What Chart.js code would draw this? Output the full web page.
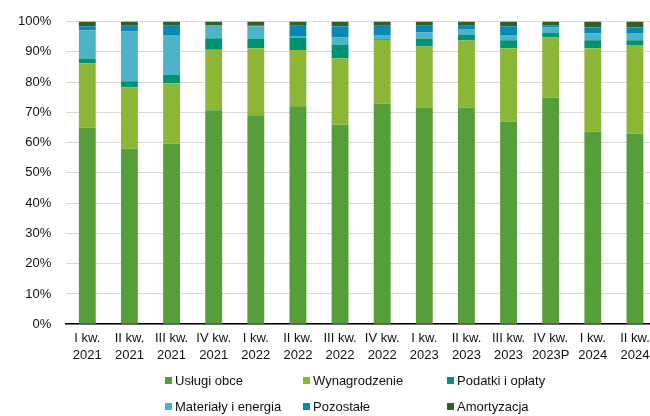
<!DOCTYPE html>
<html>
<head>
<meta charset="utf-8">
<script src="https://cdn.jsdelivr.net/npm/chart.js@4"></script>
<style>
  html, body { margin: 0; padding: 0; background: #fff; overflow: hidden; }
  #wrap { position: relative; width: 660px; height: 416px; }
  #legend { position: absolute; left: 0; top: 0; width: 650px; height: 416px; pointer-events: none;
            font-family: "Liberation Sans", Arial, sans-serif; font-size: 13px; color: #111; }
  .item { position: absolute; display: flex; align-items: center; white-space: nowrap; line-height: 16px; }
  .box { width: 7px; height: 7px; margin-right: 3px; }
</style>
</head>
<body>
<div id="wrap">
  <canvas id="cost-chart" width="660" height="416"></canvas>
  <div id="legend"></div>
</div>
<script>
const categories = [
    ["I kw.", "2021"], ["II kw.", "2021"], ["III kw.", "2021"], ["IV kw.", "2021"],
    ["I kw.", "2022"], ["II kw.", "2022"], ["III kw.", "2022"], ["IV kw.", "2022"],
    ["I kw.", "2023"], ["II kw.", "2023"], ["III kw.", "2023"], ["IV kw.", "2023P"],
    ["I kw.", "2024"], ["II kw.", "2024"]
];
const uslugiObce    = [64.9, 58.0, 59.6, 70.7, 69.0, 72.0, 65.9, 72.8, 71.6, 71.5, 66.9, 74.8, 63.6, 62.9];
const wynagrodzenie = [21.3, 20.3, 20.0, 20.0, 22.2, 18.6, 21.9, 21.1, 20.1, 22.2, 24.3, 19.9, 27.6, 29.3];
const podatki       = [1.6, 2.0, 2.7, 3.8, 3.0, 4.1, 4.6, 0.2, 2.7, 1.8, 2.6, 1.5, 2.6, 1.6];
const materialy     = [9.2, 16.4, 13.2, 4.1, 4.2, 0.3, 2.3, 1.4, 2.0, 2.0, 1.7, 1.8, 2.3, 2.4];
const pozostale     = [1.4, 1.9, 3.1, 0.2, 0.2, 3.6, 3.7, 3.1, 2.2, 1.1, 2.9, 0.8, 1.9, 1.8];
const amortyzacja   = [1.6, 1.4, 1.4, 1.2, 1.4, 1.4, 1.6, 1.4, 1.4, 1.4, 1.6, 1.2, 2.0, 2.0];
const yTicks = [0, 10, 20, 30, 40, 50, 60, 70, 80, 90, 100];

const seriesNames = ["Usługi obce", "Wynagrodzenie", "Podatki i opłaty", "Materiały i energia", "Pozostałe", "Amortyzacja"];
const seriesData = [uslugiObce, wynagrodzenie, podatki, materialy, pozostale, amortyzacja];
const seriesColors = ["#559E3A", "#8CB635", "#009373", "#4CB4C6", "#0A88B4", "#345F25"];

function buildChart() {
    const ctx = document.getElementById("cost-chart").getContext('2d');
    const family = '"Liberation Sans", Arial, sans-serif';
    return new Chart(ctx, {
        type: 'bar',
        data: {
            labels: categories,
            datasets: seriesNames.map((name, i) => ({
                label: name,
                data: seriesData[i],
                backgroundColor: seriesColors[i],
                borderWidth: 0
            }))
        },
        options: {
            responsive: false,
            animation: false,
            layout: { padding: { top: 12, right: 4, bottom: 54, left: 3 } },
            datasets: { bar: { barPercentage: 0.4, categoryPercentage: 1 } },
            plugins: { legend: { display: false }, tooltip: { enabled: false } },
            scales: {
                x: {
                    stacked: true,
                    grid: { display: false },
                    border: { display: true, color: '#000', width: 1.5 },
                    ticks: { color: '#111', font: { family: family, size: 13, lineHeight: 1.3 }, padding: -2, maxRotation: 0, autoSkip: false }
                },
                y: {
                    stacked: true,
                    min: 0,
                    max: 100,
                    afterBuildTicks: axis => { axis.ticks = yTicks.map(v => ({ value: v })); },
                    grid: { color: '#d9d9d9', lineWidth: 1, drawTicks: false },
                    border: { display: false },
                    ticks: { color: '#111', font: { family: family, size: 13, lineHeight: 1 }, padding: 15, callback: v => v + '%' }
                }
            }
        }
    });
}

function buildLegend(chart) {
    /* Three-column legend like the original. */
    const cols = [165, 303, 447];
    const rows = [380.5, 406.5];
    const el = document.getElementById('legend');
    chart.data.datasets.forEach((ds, i) => {
        const item = document.createElement('div');
        item.className = 'item';
        item.style.left = cols[i % 3] + 'px';
        item.style.top = (rows[Math.floor(i / 3)] - 8) + 'px';
        const box = document.createElement('span');
        box.className = 'box';
        box.style.background = ds.backgroundColor;
        item.appendChild(box);
        item.appendChild(document.createTextNode(ds.label));
        el.appendChild(item);
    });
}

function initPage() {
    const chart = buildChart();
    buildLegend(chart);
}

document.addEventListener('DOMContentLoaded', initPage);
</script>
</body>
</html>
